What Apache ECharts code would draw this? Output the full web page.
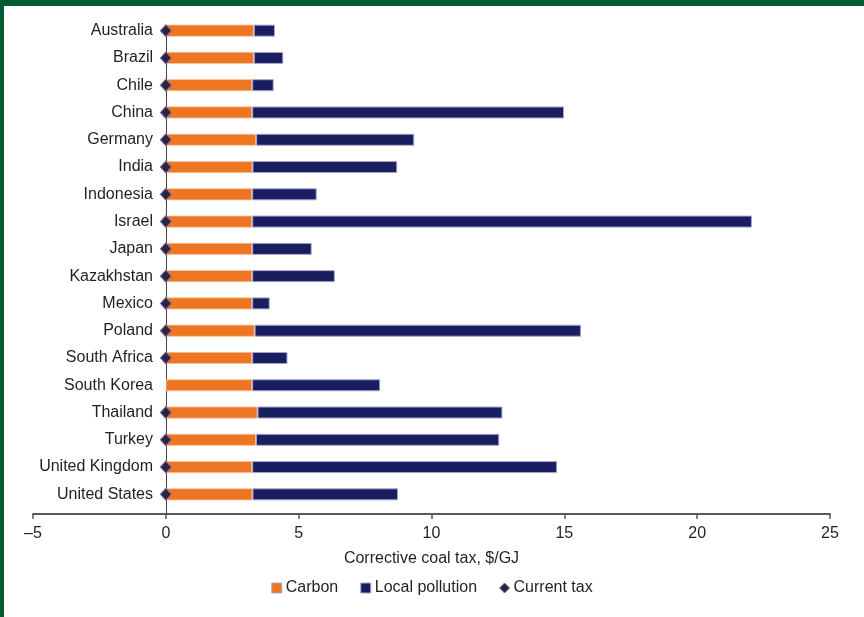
<!DOCTYPE html>
<html>
<head>
<meta charset="utf-8">
<script src="https://cdn.jsdelivr.net/npm/echarts@6/dist/echarts.min.js"></script>
<style>
  html, body { margin: 0; padding: 0; background: #fff; }
  #wrap { position: relative; width: 864px; height: 617px; overflow: hidden; }
  #chart { position: absolute; left: 0; top: 0; width: 864px; height: 617px; }
  .edge { position: absolute; background: #005a32; }
</style>
</head>
<body>
<div id="wrap">
  <div id="chart"></div>
  <div class="edge" style="left:0;top:0;width:864px;height:6px;"></div>
  <div class="edge" style="left:0;top:0;width:4px;height:617px;"></div>
</div>
<script>
// Countries, top to bottom
const countries = ['Australia', 'Brazil', 'Chile', 'China', 'Germany', 'India', 'Indonesia', 'Israel',
  'Japan', 'Kazakhstan', 'Mexico', 'Poland', 'South Africa', 'South Korea', 'Thailand', 'Turkey',
  'United Kingdom', 'United States'];

// Corrective coal tax components, $/GJ
const carbon = [3.31, 3.31, 3.25, 3.25, 3.40, 3.26, 3.25, 3.25, 3.25, 3.25, 3.25, 3.34, 3.25, 3.25, 3.45, 3.39, 3.25, 3.26];
const localPollution = [0.80, 1.11, 0.81, 11.74, 5.95, 5.45, 2.43, 18.81, 2.24, 3.11, 0.66, 12.29, 1.33, 4.82, 9.22, 9.16, 11.48, 5.48];
// Existing coal tax ($/GJ); no value reported for South Korea
const currentTax = [0, 0, 0, 0, 0, 0, 0, 0, 0, 0, 0, 0, 0, null, 0, 0, 0, 0];

const xTicks = { min: -5, max: 25, step: 5 };

const FONT = "'Liberation Sans', Arial, sans-serif";
const TEXT = '#231f20';
const ORANGE = '#ee7623';
const NAVY = '#191e60';
const EDGE = '#a9a3d1';

const chart = echarts.init(document.getElementById('chart'), null, { renderer: 'canvas' });

const option = {
  animation: false,
  backgroundColor: '#ffffff',
  textStyle: { fontFamily: FONT, color: TEXT },
  grid: { left: 33, right: 34, top: 17, bottom: 109, containLabel: false, outerBoundsMode: 'none' },
  xAxis: {
    type: 'value',
    min: xTicks.min,
    max: xTicks.max,
    interval: xTicks.step,
    offset: 6,
    name: 'Corrective coal tax, $/GJ',
    nameLocation: 'middle',
    nameGap: 37,
    nameTextStyle: { fontFamily: FONT, fontSize: 16, color: TEXT },
    axisLine: { show: true, onZero: false, lineStyle: { color: '#5a5a5a', width: 2 } },
    axisTick: { show: true, inside: false, length: 5, lineStyle: { color: '#5a5a5a', width: 1.5 } },
    axisLabel: {
      fontFamily: FONT, fontSize: 16, color: TEXT, margin: 12,
      formatter: v => String(v).replace('-', '\u2013')
    },
    splitLine: { show: false }
  },
  yAxis: {
    type: 'category',
    data: countries,
    inverse: true,
    axisLine: { show: false },
    axisTick: { show: false },
    // labels sit just left of the zero line, inside the plot area
    axisLabel: { fontFamily: FONT, fontSize: 16, color: TEXT, margin: -120 },
    splitLine: { show: false }
  },
  legend: {
    bottom: 16,
    left: 'center',
    itemGap: 22,
    itemWidth: 10,
    itemHeight: 10,
    textStyle: { fontFamily: FONT, fontSize: 16, color: TEXT, padding: [0, 0, 0, -1] },
    data: [
      { name: 'Carbon', icon: 'rect', itemStyle: { color: ORANGE, borderColor: EDGE, borderWidth: 1 } },
      { name: 'Local pollution', icon: 'rect', itemStyle: { color: NAVY, borderColor: EDGE, borderWidth: 1 } },
      { name: 'Current tax', icon: 'diamond', itemStyle: { color: '#2b2536', borderColor: '#7a68b8', borderWidth: 1 } }
    ]
  },
  series: [
    {
      name: 'Carbon',
      type: 'bar',
      stack: 'tax',
      data: carbon,
      barWidth: 12,
      itemStyle: { color: ORANGE, borderColor: '#f5c6a5', borderWidth: 0.8 }
    },
    {
      name: 'Local pollution',
      type: 'bar',
      stack: 'tax',
      data: localPollution,
      barWidth: 12,
      itemStyle: { color: NAVY, borderColor: EDGE, borderWidth: 1 }
    },
    {
      name: 'Current tax',
      type: 'scatter',
      data: currentTax,
      symbol: 'diamond',
      symbolSize: [11, 12],
      z: 5,
      itemStyle: { color: '#2b2536', borderColor: '#7a68b8', borderWidth: 1, opacity: 1 }
    }
  ]
};

chart.setOption(option);

// Zero line: runs from the first country's row down to the value axis,
// which sits a little below the last category band.
function drawZeroLine() {
  const x0 = Math.round(chart.convertToPixel({ xAxisIndex: 0 }, 0)) + 0.5;
  const yFirst = chart.convertToPixel({ yAxisIndex: 0 }, countries[0]);
  const rect = chart.getModel().getComponent('grid').coordinateSystem.getRect();
  const bottom = rect.y + rect.height;
  chart.setOption({
    graphic: [{
      type: 'line',
      silent: true,
      z: 1,
      shape: { x1: x0, y1: yFirst - 5, x2: x0, y2: bottom + 6 },
      style: { stroke: '#444', lineWidth: 1 }
    }]
  });
}
drawZeroLine();
</script>
</body>
</html>
